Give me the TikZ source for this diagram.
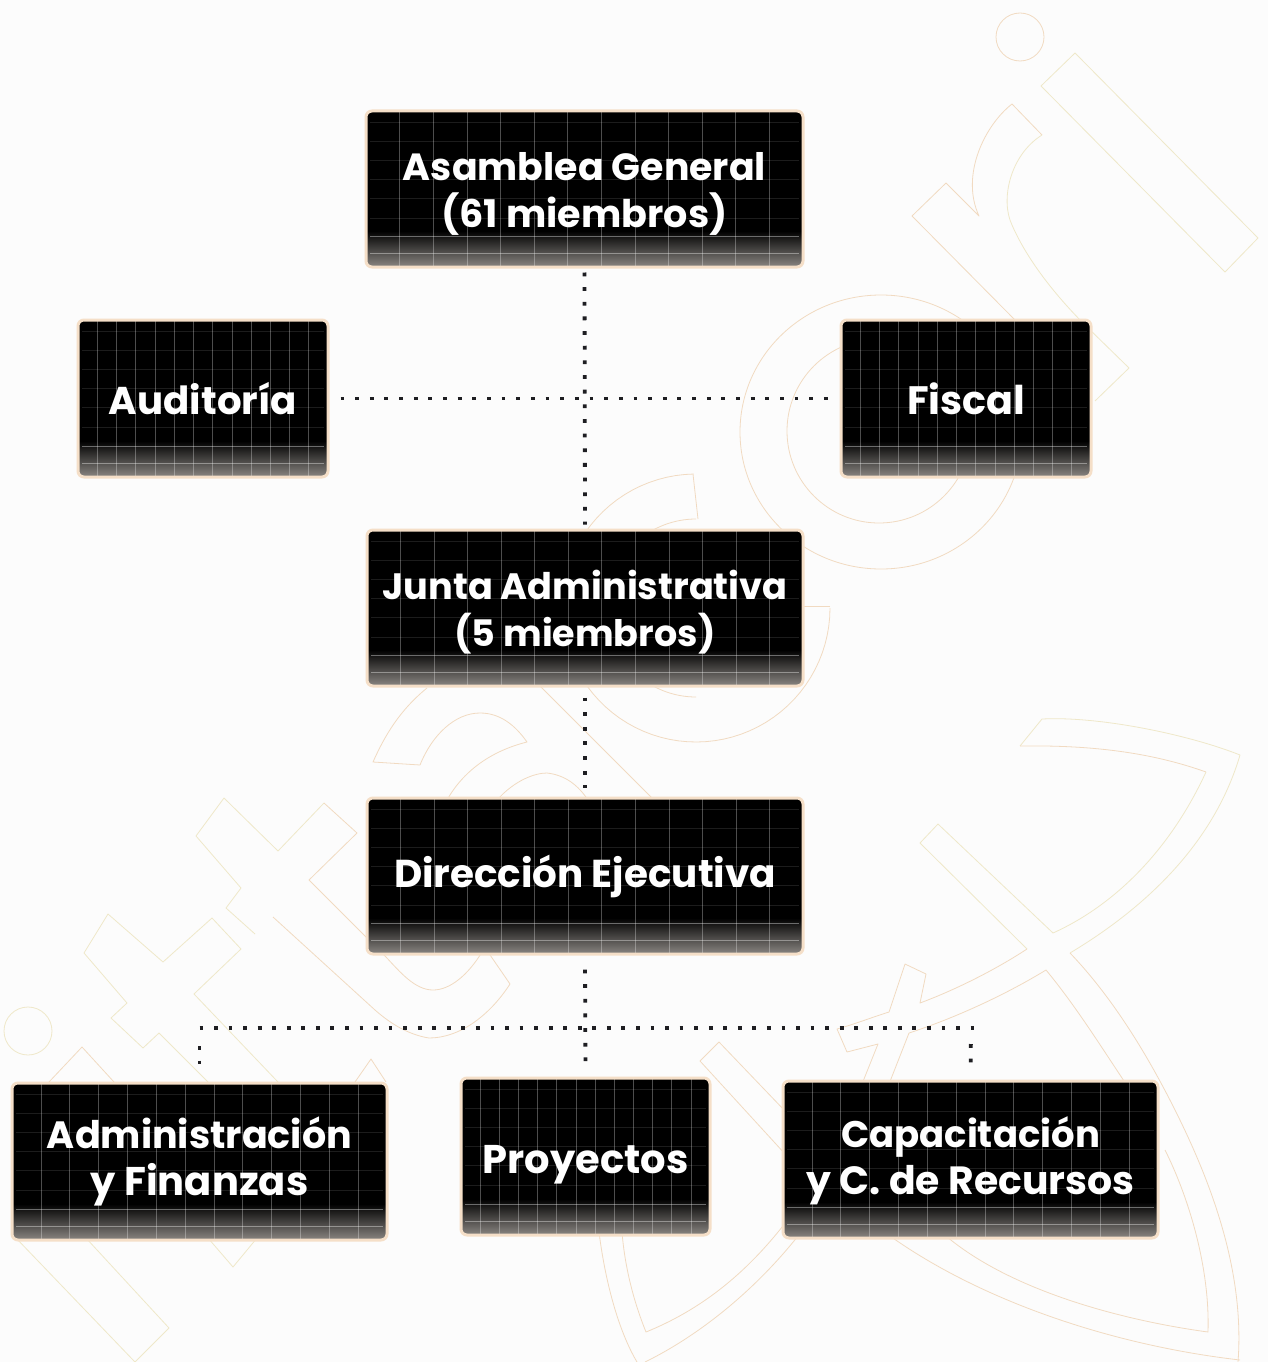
\documentclass[tikz,border=0pt]{standalone}
\usepackage{fontspec}
\setmainfont{Poppins}[BoldFont={* Bold}]
\usetikzlibrary{calc}
\definecolor{halo}{HTML}{F5DFC8}
\definecolor{tan}{HTML}{F1DAC1}
\definecolor{pale}{HTML}{EFE8C9}
\definecolor{dotc}{HTML}{1E1E22}
\definecolor{gmid}{HTML}{463F3C}
\definecolor{gbot}{HTML}{8A8682}
\newcommand{\fl}[2]{\resizebox{#1pt}{!}{#2}}
\newcommand{\dn}[1]{\rule{0pt}{#1pt}}
\tikzset{
  bgline/.style={draw=tan,line width=0.8pt,line join=round},
  bgpale/.style={draw=pale,line width=0.8pt,line join=round},
  dotline/.style={draw=dotc,line width=3.8pt,dash pattern=on 3.8pt off 10.85pt},
  busline/.style={draw=dotc,line width=3.8pt,dash pattern=on 3.8pt off 10.75pt},
  orgbox/.style n args={2}{
    rectangle,rounded corners=6pt,draw=halo,line width=3pt,fill=black,
    minimum width=#1pt,minimum height=#2pt,inner sep=0pt,
    text=white,align=center,font=\fontsize{40}{47}\selectfont\bfseries,
    path picture={
      \coordinate (nw) at (path picture bounding box.north west);
      \shade[sharp corners,top color=black,middle color=gmid,bottom color=gbot]
        ($(nw)+(0,#2-36)$) rectangle ($(nw)+(#1,#2)$);
      \foreach \i in {1,...,12}{
        \draw[sharp corners,white,opacity=.3,line width=.6pt] ($(nw)+({\i*#1/13},0)$) -- ++(0,#2);
      }
      \foreach \j in {11,30,49,68,87,107}{
        \draw[sharp corners,white,opacity=.11,line width=.6pt] ($(nw)+(4,\j)$) -- ++(#1-8,0);
      }
      \foreach \j in {-31,-14}{
        \draw[sharp corners,white,opacity=.38,line width=.6pt] ($(nw)+(4,#2+\j)$) -- ++(#1-8,0);
      }
    }
  }
}
\newcommand{\ringarc}[6][bgline]{\draw[#1] plot[domain=#5:#6,samples=70] ({#2+#4*cos(\x)},{#3+#4*sin(\x)});}
\begin{document}
\begin{tikzpicture}[x=1pt,y=-1pt]
\useasboundingbox (0,0) rectangle (1268,1362);
\fill[white!99!black] (0,0) rectangle (1268,1362);

% background emblem: top right
\draw[bgline] (1020,37) circle[radius=24];
\draw[bgpale] (1075,53) -- (1258,238) -- (1225,272) -- (1041,86) -- cycle;
\draw[bgline] (1042,135) -- (1012,104) .. controls (985,125) and (960,175) .. (979,216) -- (946,183) -- (912,216) -- (1015,320);
\draw[bgpale] (1042,135) .. controls (1010,155) and (1000,200) .. (1012,225) .. controls (1025,255) and (1050,290) .. (1085,325) -- (1129,368) -- (1095,401);
% rings
\draw[bgline] (881,432) ellipse[x radius=141,y radius=137];
\draw[bgline] (879,431) circle[radius=92];
\ringarc{696}{608}{134}{-91}{-360}
\ringarc{696}{608}{89}{-90}{-270}
\draw[bgline] (693,474) -- (698,519);
\draw[bgline] (830,606) -- (800,606);
% left of Junta
\draw[bgline] (427,688) .. controls (400,710) and (385,735) .. (373,762) -- (420,765) .. controls (432,735) and (455,713) .. (480,713) .. controls (500,713) and (515,725) .. (527,742) .. controls (495,750) and (465,768) .. (447,800);
\draw[bgline] (497,800) .. controls (515,780) and (535,773) .. (547,773) .. controls (565,775) and (578,785) .. (588,800);
\draw[bgline] (540,686) -- (652,798);
% crosses bottom left
\draw[bgpale] (255,934) -- (226,908) -- (241,888) -- (196,836) -- (224,798) -- (278,851) -- (324,803);
\draw[bgline] (324,803) -- (357,833) -- (309,880) -- (386,957) .. controls (400,972) and (415,990) .. (433,990) .. controls (450,990) and (468,975) .. (482,952);
\draw[bgline] (488,952) -- (510,984) .. controls (490,1015) and (460,1038) .. (429,1038) .. controls (410,1035) and (392,1025) .. (375,1010) -- (273,917);
\draw[bgpale] (208,1082) -- (159,1033) -- (143,1048) -- (111,1018) -- (127,1003) -- (84,953) -- (108,914) -- (163,962) -- (212,918) -- (241,949) -- (194,994) -- (278,1082);
\draw[bgpale] (28,1031) circle[radius=24];
\draw[bgline] (49,1082) -- (82,1047) -- (114,1082);
\draw[bgline] (355,1082) -- (371,1059) -- (386,1082);
\draw[bgpale] (16,1238) -- (135,1362);
\draw[bgpale] (86,1238) -- (169,1328) -- (135,1362);
\draw[bgpale] (208,1238) -- (233,1267) -- (257,1238);
% fish
\draw[bgpale] (1020,746) -- (1042,719) .. controls (1100,716) and (1190,735) .. (1240,755) .. controls (1215,840) and (1150,905) .. (1070,953);
\draw[bgline] (1020,746) .. controls (1090,745) and (1150,752) .. (1206,772);
\draw[bgpale] (1206,772) .. controls (1170,850) and (1115,905) .. (1053,933) -- (938,824) -- (920,843) -- (1027,949);
\draw[bgline] (1027,949) .. controls (995,970) and (955,990) .. (920,1003) -- (926,974) -- (905,964) -- (889,1012) .. controls (870,1018) and (855,1024) .. (837,1029) -- (847,1052) -- (878,1044) -- (862,1084);
\draw[bgline] (889,1084) -- (909,1033) .. controls (955,1018) and (1005,995) .. (1046,970) .. controls (1075,1005) and (1100,1045) .. (1126,1084);
\draw[bgline] (1070,953) .. controls (1115,1000) and (1150,1060) .. (1175,1110) .. controls (1210,1180) and (1245,1270) .. (1238,1362);
\draw[bgline] (1165,1150) .. controls (1190,1200) and (1210,1270) .. (1208,1332) .. controls (1120,1320) and (1010,1290) .. (946,1236);
\draw[bgline] (1240,1360) .. controls (1110,1345) and (980,1300) .. (890,1236);
\draw[bgline] (599,1232) .. controls (605,1280) and (618,1330) .. (637,1362);
\draw[bgline] (622,1232) .. controls (625,1270) and (635,1305) .. (646,1332) .. controls (700,1310) and (745,1275) .. (786,1222);
\draw[bgline] (645,1362) .. controls (700,1335) and (755,1290) .. (798,1236);
\draw[bgline] (786,1112) -- (719,1042) -- (700,1061) -- (786,1155);

% boxes
\node[orgbox={437}{156}] (asamblea) at (584.5,189) {\dn{37}\fl{363}{Asamblea General}\\\fl{286}{(61 miembros)}};
\node[orgbox={250}{157}] (auditoria) at (203,398.5) {\fl{188}{Auditoría}};
\node[orgbox={250}{157}] (fiscal) at (966,398.5) {\fl{118}{Fiscal}};
\node[orgbox={436}{156}] (junta) at (585,608) {\dn{37}\fl{405}{Junta Administrativa}\\\fl{261}{(5 miembros)}};
\node[orgbox={436}{156}] (direccion) at (585,876) {\fl{382}{Dirección Ejecutiva}};
\node[orgbox={375}{157}] (admin) at (199.5,1161.5) {\fl{305}{Administración}\\\fl{218}{y Finanzas}};
\node[orgbox={249}{157}] (proyectos) at (585.5,1156.5) {\dn{44}\fl{206}{Proyectos}};
\node[orgbox={375}{157}] (capac) at (970.5,1159.5) {\dn{34}\fl{259}{Capacitación}\\\fl{328}{y C. de Recursos}};

% connectors
\coordinate (busL) at (199.5,1028);
\coordinate (busR) at (971,1028);
\draw[dotline,shorten <=4pt,shorten >=4pt] (asamblea.south) -- (junta.north);
\draw[dotline,shorten <=11pt,shorten >=10pt] (auditoria.east) -- (fiscal.west);
\draw[dotline,shorten <=10pt,shorten >=9pt] (junta.south) -- (direccion.north);
\draw[dotline,shorten <=14pt,shorten >=15pt] (direccion.south) -- (proyectos.north);
\draw[busline] (busL) -- ($(busR)+(3.8,0)$);
\draw[dotline,shorten <=18pt,shorten >=15pt] (busL) -- (admin.north);
\draw[dotline,shorten <=16pt,shorten >=15pt] (busR) -- (capac.north);
\end{tikzpicture}
\end{document}
